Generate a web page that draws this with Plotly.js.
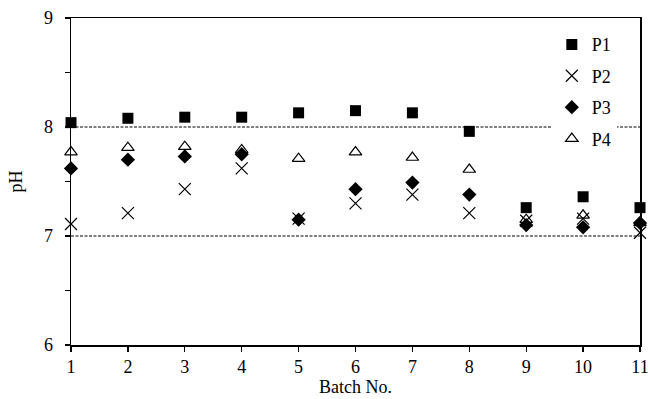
<!DOCTYPE html>
<html>
<head>
<meta charset="utf-8">
<script src="https://cdn.plot.ly/plotly-3.0.1.min.js"></script>
<style>html,body{margin:0;padding:0;background:#fff;}#chart{width:648px;height:399px;}</style>
</head>
<body>
<div id="chart"></div>
<script>
const batches = [1, 2, 3, 4, 5, 6, 7, 8, 9, 10, 11];
const p1 = [8.04, 8.08, 8.09, 8.09, 8.13, 8.15, 8.13, 7.96, 7.26, 7.36, 7.26];
const p2 = [7.11, 7.21, 7.43, 7.62, 7.16, 7.30, 7.38, 7.21, 7.14, 7.16, 7.03];
const p3 = [7.62, 7.70, 7.73, 7.75, 7.15, 7.43, 7.49, 7.38, 7.10, 7.08, 7.12];
const p4 = [7.77, 7.81, 7.82, 7.79, 7.71, 7.77, 7.72, 7.61, 7.15, 7.19, 7.12];
const seriesNames = ["P1", "P2", "P3", "P4"];
const limitLines = [8, 7];
const xTickVals = [1, 2, 3, 4, 5, 6, 7, 8, 9, 10, 11];
const yTickVals = [6, 6.5, 7, 7.5, 8, 8.5, 9];
const yTickText = ["6", "", "7", "", "8", "", "9"];

const font = {family: "'Liberation Serif', 'Times New Roman', serif", size: 18, color: "#000"};

const traces = [
  {x: batches, y: p1, name: seriesNames[0], legendgroup: "a", mode: "markers", type: "scatter", cliponaxis: false,
   marker: {symbol: "square", size: 11, color: "#000"}},
  {x: batches, y: p2, name: seriesNames[1], legendgroup: "b", mode: "markers", type: "scatter", cliponaxis: false,
   marker: {symbol: "x-thin-open", size: 12, color: "#000", line: {width: 1.2, color: "#000"}}},
  {x: batches, y: p3, name: seriesNames[2], legendgroup: "c", mode: "markers", type: "scatter", cliponaxis: false,
   marker: {symbol: "diamond", size: 11, color: "#000"}},
  {x: batches, y: p4, name: seriesNames[3], legendgroup: "d", mode: "markers", type: "scatter", cliponaxis: false,
   marker: {symbol: "triangle-up-open", size: 11, color: "#000", line: {width: 1.2, color: "#000"}}}
];

const shapes = limitLines.map(v => ({
  type: "line", xref: "x", yref: "y", x0: batches[0], x1: batches[batches.length - 1], y0: v, y1: v,
  line: {color: "#000", width: 1.2, dash: "3px,1.5px"}, layer: "below"
}));

const layout = {
  width: 648, height: 399,
  margin: {l: 71, r: 8, t: 18, b: 54},
  paper_bgcolor: "#fff", plot_bgcolor: "#fff",
  font: font,
  showlegend: true,
  legend: {x: 0.845, y: 0.975, xanchor: "left", yanchor: "top", bgcolor: "#fff",
           font: font, tracegroupgap: 5, itemwidth: 30},
  xaxis: {range: [1, 11], tickvals: xTickVals, ticks: "outside", ticklen: 5, tickwidth: 1.2,
          tickcolor: "#000", showline: true, linecolor: "#000", linewidth: 1.5, mirror: true,
          showgrid: false, zeroline: false, tickfont: font, ticklabeloverflow: "allow",
          title: {text: "Batch No.", font: font, standoff: 4}},
  yaxis: {range: [6, 9], tickvals: yTickVals, ticktext: yTickText, ticks: "outside", ticklen: 5,
          tickwidth: 1.2, tickcolor: "#000", showline: true, linecolor: "#000", linewidth: 1.5,
          mirror: true, showgrid: false, zeroline: false, tickfont: font, ticklabelstandoff: 8,
          title: {text: "pH", font: font, standoff: 16}},
  shapes: shapes
};

Plotly.newPlot("chart", traces, layout, {displayModeBar: false, staticPlot: true});
</script>
</body>
</html>
